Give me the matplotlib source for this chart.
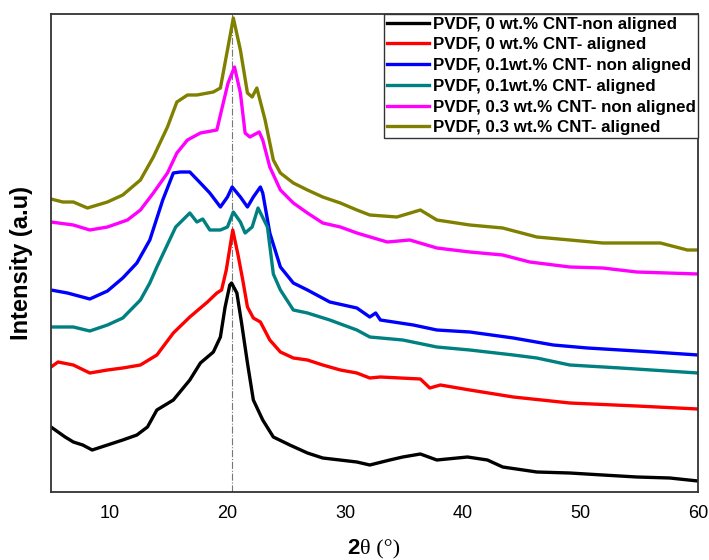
import matplotlib
matplotlib.use("Agg")
import matplotlib.pyplot as plt

# ---- data (2theta in degrees, intensity in arbitrary units) ----
labels = [
    "PVDF, 0 wt.% CNT-non aligned",
    "PVDF, 0 wt.% CNT- aligned",
    "PVDF, 0.1wt.% CNT- non aligned",
    "PVDF, 0.1wt.% CNT- aligned",
    "PVDF, 0.3 wt.% CNT- non aligned",
    "PVDF, 0.3 wt.% CNT- aligned",
]
colors = ["#000000", "#ff0000", "#0000ff", "#008080", "#ff00ff", "#808000"]

x_black = [5.0, 6.2, 6.9, 7.7, 8.5, 9.8, 11.1, 12.3, 13.2, 14.0, 15.4, 16.8, 17.7, 18.8, 19.4,
           19.8, 20.2, 20.35, 20.8, 21.2, 21.7, 22.2, 23.0, 23.9, 25.3, 26.8, 28.1, 31.0, 32.1,
           33.8, 34.9, 36.4, 37.8, 40.4, 42.1, 43.4, 46.3, 49.1, 51.9, 54.8, 57.6, 60.0]
y_black = [65, 55, 50, 47, 42, 47, 52, 57, 65, 82, 92, 112, 129, 140, 155,
           185, 207, 209, 199, 169, 129, 92, 72, 55, 47, 39, 34, 30, 27,
           32, 35, 38, 32, 35, 32, 25, 20, 19, 17, 15, 14, 11]

x_red = [5.0, 5.6, 6.9, 8.3, 9.8, 11.1, 12.6, 14.0, 15.4, 16.8, 18.3, 19.1, 19.5, 19.9, 20.45,
         20.9, 21.3, 21.7, 22.2, 22.8, 23.6, 24.5, 25.6, 26.8, 28.1, 29.6, 31.0, 32.1, 33.0,
         36.4, 37.2, 38.1, 40.6, 44.3, 49.1, 54.8, 60.0]
y_red = [125, 130, 127, 119, 122, 124, 127, 137, 159, 175, 190, 199, 202, 222, 262,
         237, 212, 185, 174, 170, 152, 140, 134, 132, 127, 122, 119, 114, 115,
         113, 104, 107, 102, 95, 89, 86, 83]

x_blue = [5.0, 6.4, 8.3, 9.8, 11.1, 12.3, 13.4, 14.5, 15.4, 16.0, 16.8, 17.7, 18.5, 19.4, 20.0,
          20.4, 21.1, 21.7, 22.2, 22.8, 23.0, 23.6, 24.5, 25.6, 26.8, 28.7, 31.0, 32.1, 32.6,
          33.0, 35.8, 37.8, 40.6, 44.3, 47.7, 50.6, 53.4, 56.2, 60.0]
y_blue = [202, 199, 193, 201, 214, 229, 252, 292, 319, 320, 320, 309, 299, 285, 295,
          305, 295, 285, 295, 305, 299, 259, 225, 209, 202, 190, 184, 175, 179,
          172, 167, 162, 160, 154, 147, 144, 142, 140, 137]

x_teal = [5.0, 6.9, 8.3, 9.8, 11.1, 12.6, 13.4, 14.0, 15.6, 16.8, 17.4, 17.9, 18.5, 19.4, 20.0,
          20.5, 21.1, 21.5, 22.1, 22.6, 23.4, 23.9, 24.5, 25.6, 26.8, 28.7, 31.0, 32.1, 34.9,
          37.8, 40.6, 44.3, 46.3, 49.1, 53.4, 60.0]
y_teal = [165, 165, 161, 167, 174, 192, 209, 225, 265, 279, 270, 273, 262, 262, 265,
          280, 270, 259, 265, 284, 265, 218, 202, 182, 179, 172, 162, 155, 152,
          145, 142, 137, 134, 127, 124, 119]

x_mag = [5.0, 6.9, 8.3, 9.8, 11.5, 12.6, 13.7, 14.9, 15.7, 16.6, 17.7, 19.1, 19.5, 20.05, 20.6,
         21.1, 21.5, 21.9, 22.7, 23.0, 23.6, 24.5, 25.6, 26.8, 28.1, 29.6, 31.0, 33.0, 33.6,
         35.5, 37.8, 40.6, 43.4, 45.7, 49.1, 51.9, 54.8, 60.0]
y_mag = [270, 267, 262, 265, 272, 282, 299, 319, 339, 352, 359, 362, 382, 409, 425,
         399, 359, 355, 360, 352, 325, 302, 289, 279, 269, 265, 259, 252, 250,
         252, 244, 240, 237, 230, 225, 224, 220, 218]

x_olive = [5.0, 6.0, 6.9, 8.1, 9.8, 11.1, 12.6, 13.7, 14.9, 15.7, 16.6, 17.4, 18.8, 19.4, 20.0,
           20.5, 21.1, 21.7, 22.1, 22.5, 23.2, 23.9, 24.5, 25.6, 26.8, 28.1, 29.6, 31.0, 32.1,
           34.4, 36.4, 37.8, 40.6, 43.4, 46.3, 49.1, 51.9, 56.8, 59.1, 60.0]
y_olive = [293, 290, 290, 284, 290, 297, 312, 335, 365, 390, 397, 397, 400, 404, 442,
           474, 442, 399, 395, 404, 372, 332, 319, 309, 302, 295, 289, 282, 277,
           275, 282, 272, 267, 264, 255, 252, 249, 249, 242, 242]

series_x = [x_black, x_red, x_blue, x_teal, x_mag, x_olive]
series_y = [y_black, y_red, y_blue, y_teal, y_mag, y_olive]

x_ticks = [10, 20, 30, 40, 50, 60]
ref_line = 20.4

# ---- figure ----
fig = plt.figure(figsize=(7.09, 5.60), dpi=100)
ax = fig.add_axes([51/709, 1 - 492/560, (698 - 51)/709, (492 - 14)/560])

ax.axvline(ref_line, color="#777777", lw=0.8, ls="-.", zorder=1)
for xs, ys, c, lab in zip(series_x, series_y, colors, labels):
    ax.plot(xs, ys, color=c, lw=2.4, label=lab, zorder=2, solid_joinstyle="round")

ax.set_xlim(5, 60)
ax.set_ylim(0, 478)
ax.set_xticks(x_ticks)
ax.set_xticklabels([str(t) for t in x_ticks], fontsize=13, family="Liberation Sans")
ax.tick_params(axis="x", length=0, pad=9)
ax.set_yticks([])
for s in ax.spines.values():
    s.set_color("#333333")
    s.set_linewidth(1.3)

leg = ax.legend(loc="upper right", borderaxespad=0, fancybox=False, framealpha=1,
                edgecolor="#333333", handlelength=2.5, handletextpad=0.2,
                borderpad=0.15, labelspacing=0.34,
                prop={"family": "Liberation Sans", "weight": "bold", "size": 12.2})
leg.get_frame().set_linewidth(1.0)

fig.text(22/709, 1 - 263/560, "Intensity (a.u)", rotation=90, ha="center", va="center",
         fontsize=17, fontweight="bold", family="Liberation Sans")
fig.text(360/709, 1 - 549/560, "2", ha="right", va="center", fontsize=16,
         fontweight="bold", family="Liberation Sans")
fig.text(360/709, 1 - 549/560, "θ (°)", ha="left", va="center", fontsize=16,
         family="Liberation Serif")

fig.savefig("out.png", dpi=100)
